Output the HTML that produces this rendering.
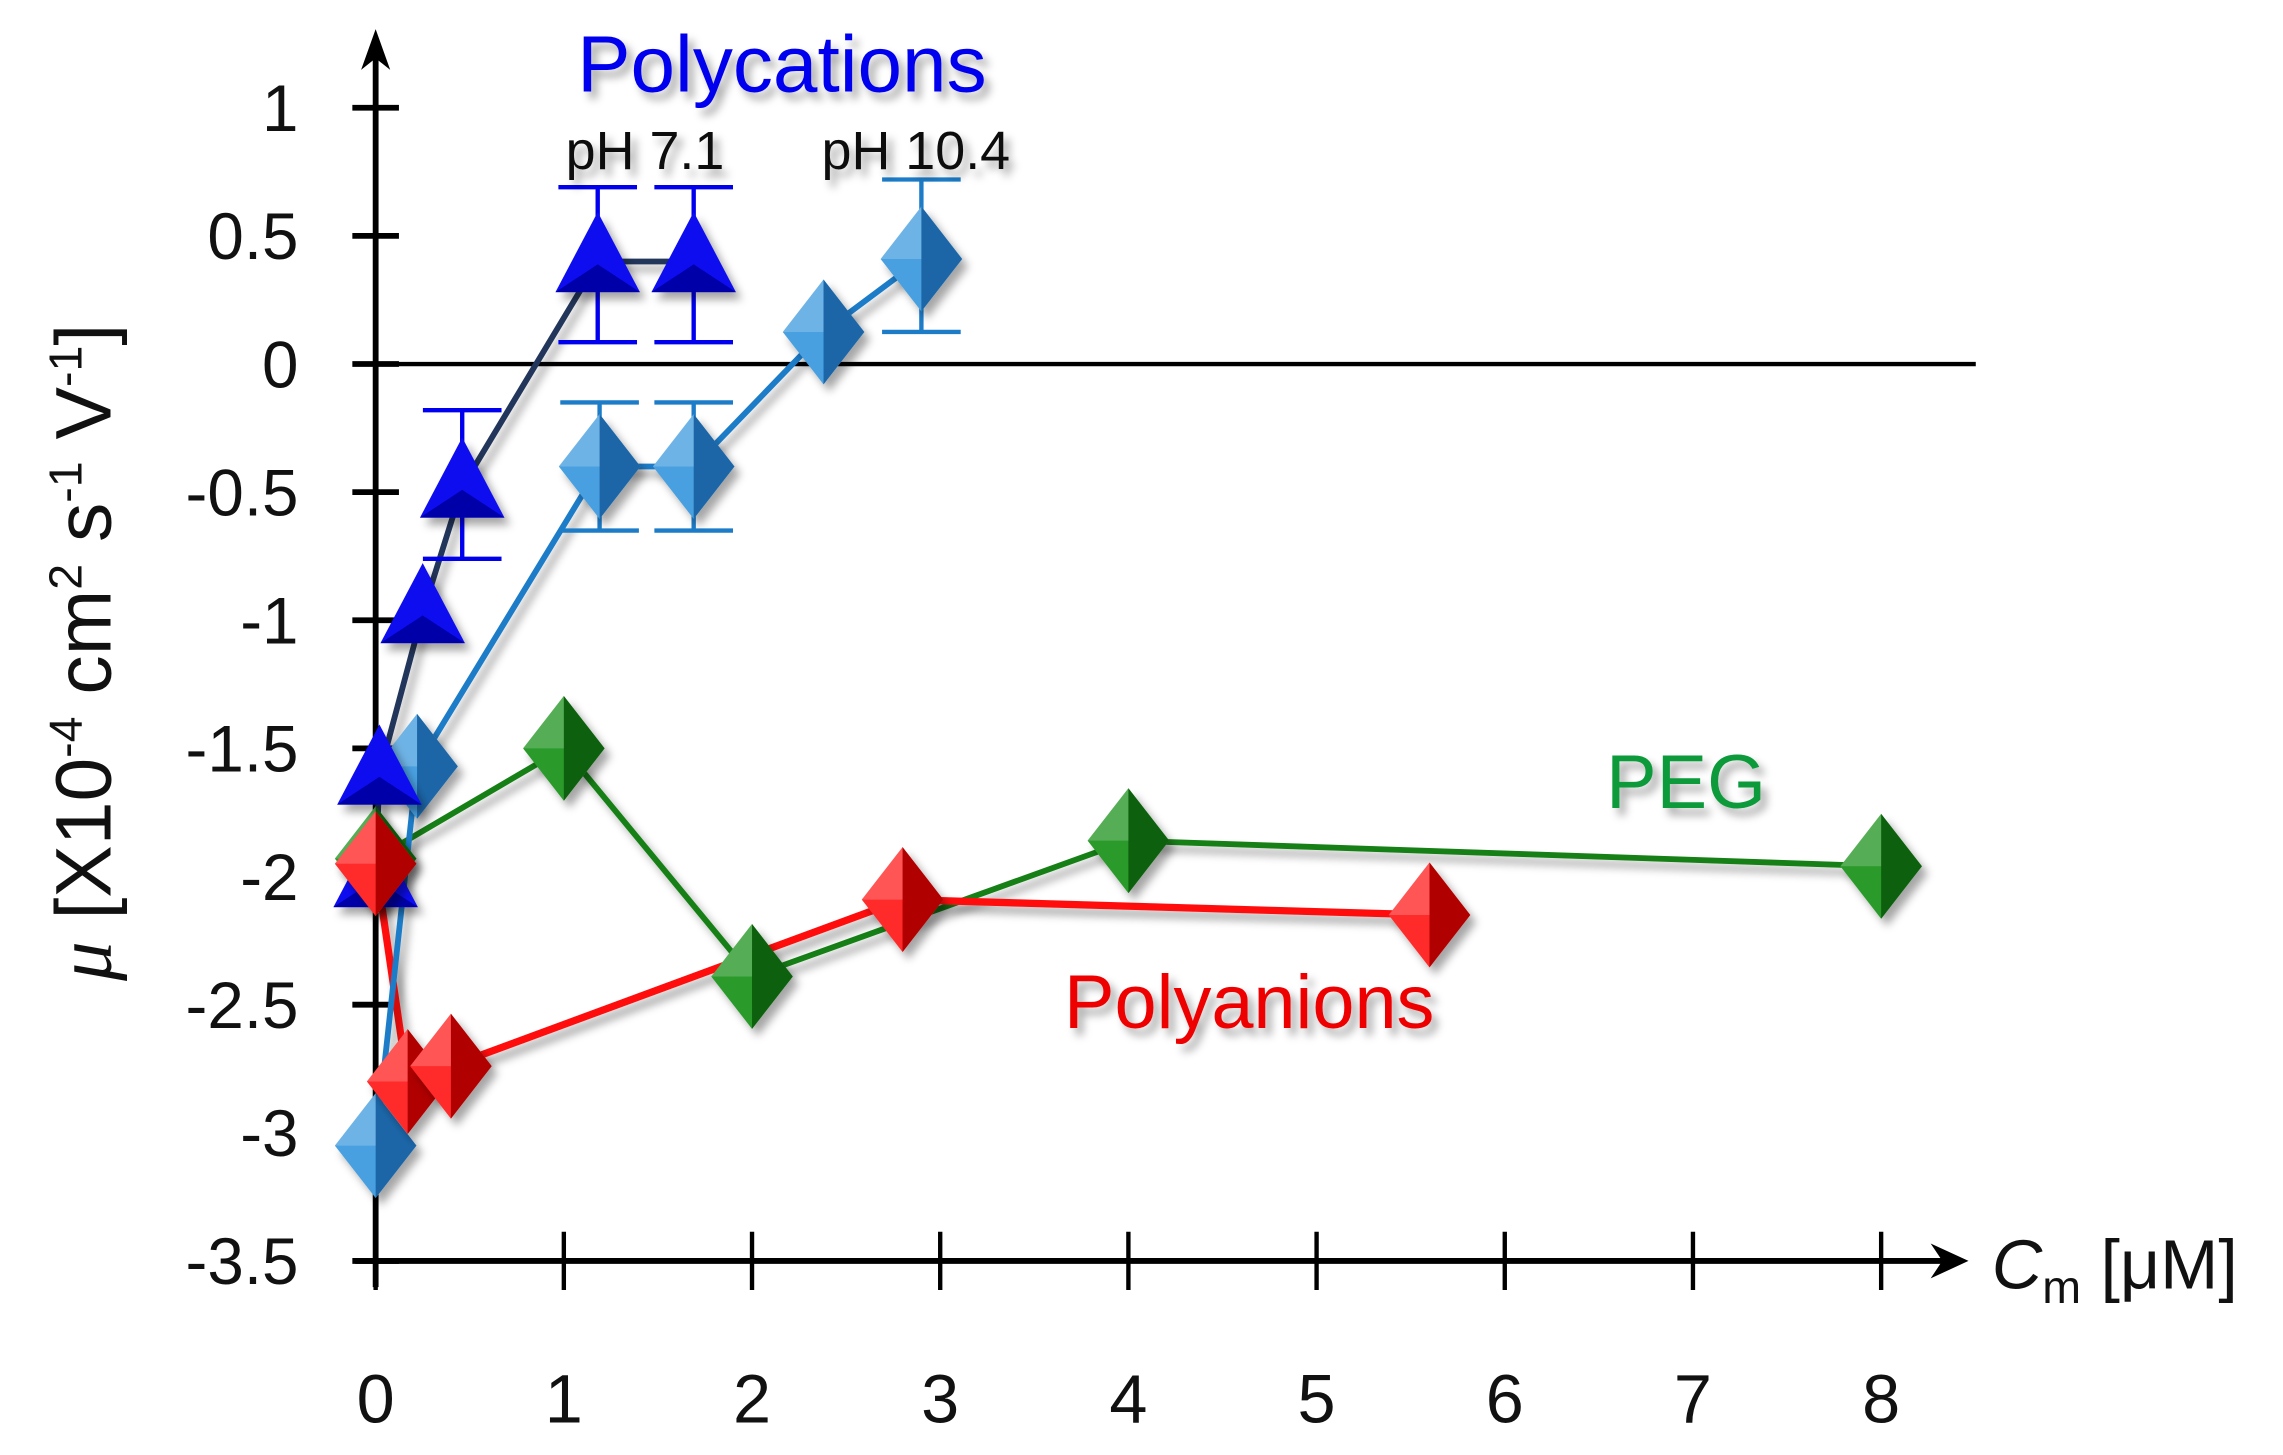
<!DOCTYPE html>
<html><head><meta charset="utf-8"><style>
html,body{margin:0;padding:0;background:#fff;}
svg{display:block;}
text{font-family:"Liberation Sans",sans-serif;}
</style></head><body>
<svg id="chart" width="2283" height="1455" viewBox="0 0 1568 999.3" preserveAspectRatio="none" xmlns="http://www.w3.org/2000/svg">
<defs>
<filter id="sh" x="-50%" y="-50%" width="200%" height="200%"><feDropShadow dx="4" dy="5" stdDeviation="3" flood-color="#000" flood-opacity="0.35"/></filter>
<filter id="blur" x="-5%" y="-200%" width="110%" height="500%"><feGaussianBlur stdDeviation="4"/></filter>
</defs>
<g id="axes"></g>
<g id="series"></g>
<text x="537" y="63" font-size="55" fill="#0000ee" text-anchor="middle" filter="url(#sh)">Polycations</text>
<text x="443" y="116" font-size="37" fill="#111" text-anchor="middle" filter="url(#sh)">pH 7.1</text>
<text x="629" y="116" font-size="37" fill="#111" text-anchor="middle" filter="url(#sh)">pH 10.4</text>
<text x="1158" y="555" font-size="52" fill="#0a9a3a" text-anchor="middle" filter="url(#sh)">PEG</text>
<text x="858" y="706" font-size="52" fill="#ee0000" text-anchor="middle" filter="url(#sh)">Polyanions</text>
<text transform="translate(76,448) rotate(-90)" font-size="54" fill="#111" text-anchor="middle"><tspan font-style="italic" font-family="Liberation Serif,serif">μ</tspan> [X10<tspan font-size="32" dy="-20">-4</tspan><tspan dy="20"> cm</tspan><tspan font-size="32" dy="-20">2</tspan><tspan dy="20"> s</tspan><tspan font-size="32" dy="-20">-1</tspan><tspan dy="20"> V</tspan><tspan font-size="32" dy="-20">-1</tspan><tspan dy="20">]</tspan></text>
<text x="1368" y="885" font-size="48" fill="#111"><tspan font-style="italic">C</tspan><tspan font-size="32" dy="10">m</tspan><tspan dy="-10"> [μM]</tspan></text>
</svg>
<script>
const xTicks=[0,1,2,3,4,5,6,7,8];
const yTicks=[1,0.5,0,-0.5,-1,-1.5,-2,-2.5,-3,-3.5];
const yTickLabels=["1","0.5","0","-0.5","-1","-1.5","-2","-2.5","-3","-3.5"];
const ph7X=[0,0.02,0.25,0.46,1.18,1.69];
const ph7Y=[-2.0,-1.6,-0.97,-0.48,0.4,0.4];
const ph7ErrX=[0.46,1.18,1.69];
const ph7ErrLo=[-0.76,0.085,0.085];
const ph7ErrHi=[-0.18,0.69,0.69];
const ph10X=[0,0.22,1.19,1.69,2.38,2.9];
const ph10Y=[-3.05,-1.57,-0.4,-0.4,0.125,0.41];
const ph10ErrX=[1.19,1.69,2.9];
const ph10ErrLo=[-0.65,-0.65,0.125];
const ph10ErrHi=[-0.15,-0.15,0.72];
const pegX=[0,1,2,4,8];
const pegY=[-1.93,-1.5,-2.39,-1.86,-1.96];
const anX=[0,0.17,0.4,2.8,5.6];
const anY=[-1.95,-2.8,-2.74,-2.09,-2.15];

const NS="http://www.w3.org/2000/svg";
function sx(v){return 258+v*129.25;}
function sy(v){return 250-v*176;}
function mk(tag,attrs,parent){const e=document.createElementNS(NS,tag);for(const k in attrs)e.setAttribute(k,attrs[k]);parent.appendChild(e);return e;}
const ax=document.getElementById('axes');
const se=document.getElementById('series');
let zs=mk('line',{x1:sx(0),x2:1360,y1:sy(0)+2,y2:sy(0)+2,stroke:'#aaa','stroke-width':14,filter:'url(#blur)'},ax);


let zl=mk('line',{x1:sx(0)-14,x2:1357,y1:sy(0),y2:sy(0),stroke:'#000','stroke-width':3},ax);


let ya=mk('line',{x1:sx(0),x2:sx(0),y1:sy(-3.5)+18,y2:30,stroke:'#000','stroke-width':4},ax);


let yar=mk('path',{d:`M${sx(0)},20 L${sx(0)-10},48 L${sx(0)},40 L${sx(0)+10},48 Z`,fill:'#000'},ax);


let xa=mk('line',{x1:sx(0)-14,x2:1340,y1:sy(-3.5),y2:sy(-3.5),stroke:'#000','stroke-width':4},ax);


let xar=mk('path',{d:`M1352,${sy(-3.5)} L1326,${sy(-3.5)-12} L1334,${sy(-3.5)} L1326,${sy(-3.5)+12} Z`,fill:'#000'},ax);


yTicks.forEach((v,i)=>{
  let t=mk('line',{x1:sx(0)-16,x2:sx(0)+16,y1:sy(v),y2:sy(v),stroke:'#000','stroke-width':4},ax);
  
  
  let l=mk('text',{x:205,y:sy(v)+16,'font-size':45,'text-anchor':'end',fill:'#111'},ax);
  l.textContent=yTickLabels[i];
  
  
});
xTicks.forEach(v=>{
  let t=mk('line',{x1:sx(v),x2:sx(v),y1:sy(-3.5)-20,y2:sy(-3.5)+20,stroke:'#000','stroke-width':3},ax);
  
  
  let l=mk('text',{x:sx(v),y:977,'font-size':47,'text-anchor':'middle',fill:'#111'},ax);
  l.textContent=String(v);
  
  
});
function line(xs,ys,color,w,name){
  let p=mk('polyline',{points:xs.map((x,i)=>sx(x)+','+sy(ys[i])).join(' '),fill:'none',stroke:color,'stroke-width':w,filter:'url(#sh)'},se);
  
  
}
function errs(xs,lo,hi,color,name){
  xs.forEach((x,i)=>{
    let g=mk('g',{stroke:color,'stroke-width':3},se);
    
    
    mk('line',{x1:sx(x),x2:sx(x),y1:sy(lo[i]),y2:sy(hi[i])},g);
    mk('line',{x1:sx(x)-27,x2:sx(x)+27,y1:sy(lo[i]),y2:sy(lo[i])},g);
    mk('line',{x1:sx(x)-27,x2:sx(x)+27,y1:sy(hi[i]),y2:sy(hi[i])},g);
  });
}
function diamonds(xs,ys,light,dark,name){
  xs.forEach((x,i)=>{
    const cx=sx(x),cy=sy(ys[i]),w=28,h=36;
    let g=mk('g',{filter:'url(#sh)'},se);
    
    
    mk('path',{d:`M${cx},${cy-h} L${cx-w},${cy} L${cx},${cy+h} L${cx+w},${cy} Z`,fill:light},g);
    mk('path',{d:`M${cx},${cy-h} L${cx+w},${cy} L${cx},${cy+h} Z`,fill:dark},g);
    mk('path',{d:`M${cx},${cy-h} L${cx-w},${cy} L${cx},${cy} Z`,fill:'rgba(255,255,255,0.2)'},g);
  });
}
function triangles(xs,ys,name){
  xs.forEach((x,i)=>{
    const cx=sx(x),cy=sy(ys[i]);
    let g=mk('g',{filter:'url(#sh)'},se);
    
    
    mk('path',{d:`M${cx},${cy-34} L${cx-29},${cy+21} L${cx+29},${cy+21} Z`,fill:'#0a0af0'},g);
    mk('path',{d:`M${cx},${cy+2} L${cx-29},${cy+21} L${cx+29},${cy+21} Z`,fill:'#0000a8'},g);
  });
}
line(pegX,pegY,'#138013',4,'peg-line');
line(anX,anY,'#ff1010',5,'polyanion-line');
line(ph10X,ph10Y,'#1c7cc8',4,'ph10-line');
line(ph7X,ph7Y,'#22365a',4,'ph7-line');
errs(ph10ErrX,ph10ErrLo,ph10ErrHi,'#1c7cc8','ph10-error-bar');
errs(ph7ErrX,ph7ErrLo,ph7ErrHi,'#0000ee','ph7-error-bar');
diamonds(pegX,pegY,'#2a9a2a','#0f600f','peg-point');
diamonds(ph10X,ph10Y,'#4aa0e0','#1a66a8','ph10-point');
triangles(ph7X,ph7Y,'ph7-point');
diamonds(anX,anY,'#ff2a2a','#b00000','polyanion-point');
</script>
</body></html>
